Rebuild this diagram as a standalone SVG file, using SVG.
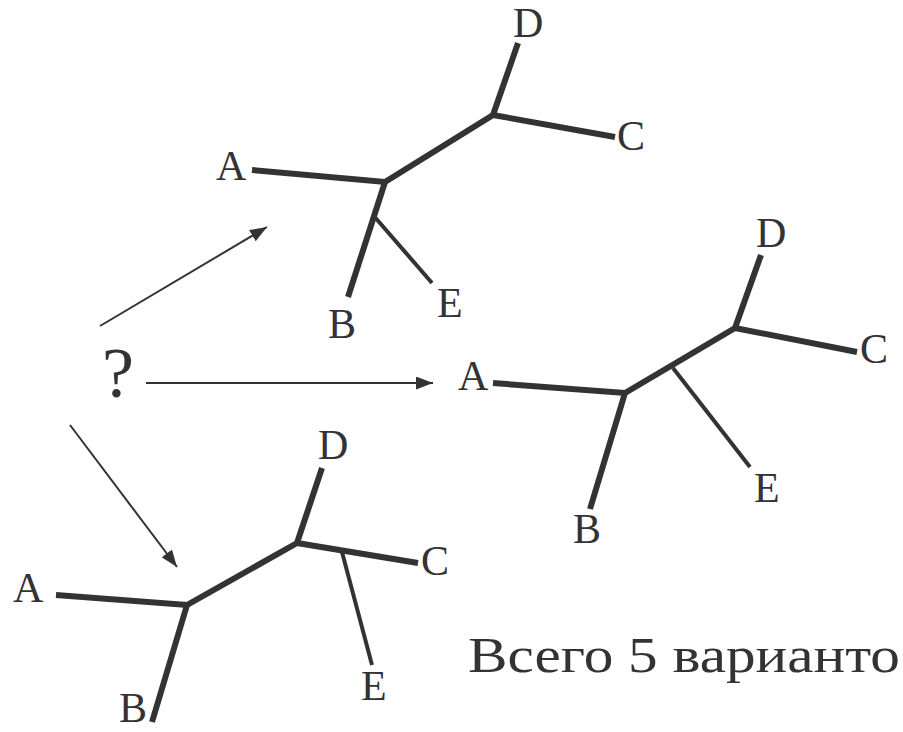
<svg xmlns="http://www.w3.org/2000/svg" width="903" height="732" viewBox="0 0 903 732">
<defs>
<marker id="ah" viewBox="0 0 17 13" refX="17" refY="6.5" markerWidth="17" markerHeight="13" markerUnits="userSpaceOnUse" orient="auto">
<path d="M0,0 L17,6.5 L0,13 z" fill="#333"/>
</marker>
<style>
.br{stroke:#333;stroke-width:6;fill:none;stroke-linecap:butt;stroke-linejoin:miter}
.thin{stroke:#333;stroke-width:4;fill:none}
.arr{stroke:#333;stroke-width:2;fill:none}
</style>
</defs>
<rect width="903" height="732" fill="#fff"/>
<g font-family="'Liberation Serif', 'DejaVu Serif', serif" fill="#333">
<g id="tree-top" font-size="42">
<polyline class="br" points="252,170 385,182 493,115 518,43"/>
<line class="br" x1="493" y1="115" x2="615" y2="137"/>
<line class="br" x1="385" y1="182" x2="348" y2="297"/>
<line class="thin" x1="373" y1="215" x2="432" y2="283"/>
<text x="216" y="180">A</text>
<text x="513" y="37">D</text>
<text x="617" y="150">C</text>
<text x="437" y="317">E</text>
<text x="328" y="338">B</text>
</g>
<g id="tree-middle" font-size="42">
<polyline class="br" points="493,383 625,393 735,328 761,255"/>
<line class="br" x1="735" y1="328" x2="857" y2="352"/>
<line class="br" x1="625" y1="393" x2="590" y2="509"/>
<line class="thin" x1="673" y1="368" x2="750" y2="467"/>
<text x="458" y="390">A</text>
<text x="756" y="247">D</text>
<text x="860" y="363">C</text>
<text x="754" y="502">E</text>
<text x="573" y="543">B</text>
</g>
<g id="tree-bottom" font-size="42">
<polyline class="br" points="56,595 187,605 297,543 322,468"/>
<line class="br" x1="297" y1="543" x2="418" y2="563"/>
<line class="br" x1="187" y1="605" x2="152" y2="722"/>
<line class="thin" x1="342" y1="552" x2="372" y2="665"/>
<text x="13" y="602">A</text>
<text x="318" y="459">D</text>
<text x="421" y="575">C</text>
<text x="361" y="700">E</text>
<text x="119" y="722">B</text>
</g>
<g id="question">
<text x="102" y="397" font-size="72">?</text>
</g>
<g id="caption">
<text x="468" y="672" font-size="50" textLength="432" lengthAdjust="spacingAndGlyphs">Всего 5 варианто</text>
</g>
</g>
<g id="connectors">
<line class="arr" x1="100" y1="326" x2="267" y2="227" marker-end="url(#ah)"/>
<line class="arr" x1="146" y1="383" x2="433" y2="383" marker-end="url(#ah)"/>
<line class="arr" x1="70" y1="425" x2="177" y2="567" marker-end="url(#ah)"/>
</g>
</svg>
